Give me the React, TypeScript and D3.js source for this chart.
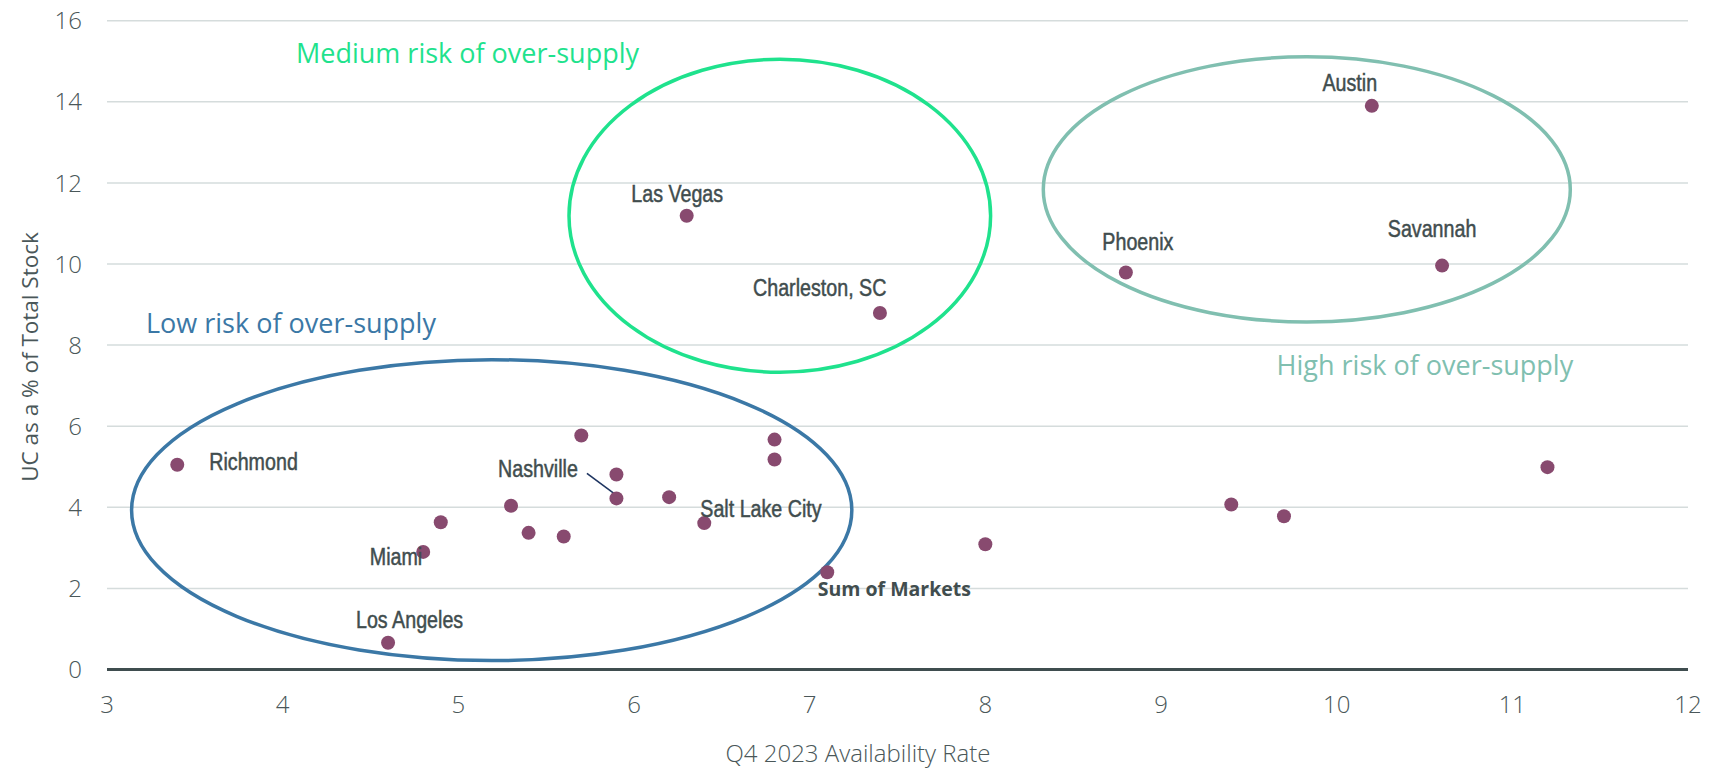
import React from "react";
import * as d3 from "d3";

// Q4 2023 availability rate (%) and units under construction as a share of total stock (%)
const marketNames = [
  "Richmond", "Miami", "", "Los Angeles", "", "", "", "", "", "Nashville", "", "Salt Lake City",
  "", "", "Sum of Markets", "", "", "", "", "Las Vegas", "Charleston, SC", "Phoenix", "Austin", "Savannah",
];
const availabilityRate = [
  3.4, 4.8, 4.9, 4.6, 5.3, 5.4, 5.6, 5.7, 5.9, 5.9, 6.2, 6.4,
  6.8, 6.8, 7.1, 8.0, 9.4, 9.7, 11.2, 6.3, 7.4, 8.8, 10.2, 10.6,
];
const ucShare = [
  5.05, 2.9, 3.63, 0.66, 4.04, 3.37, 3.28, 5.77, 4.81, 4.22, 4.25, 3.61,
  5.67, 5.18, 2.4, 3.09, 4.07, 3.78, 4.99, 11.19, 8.79, 9.79, 13.9, 9.96,
];

const xTicks = [3, 4, 5, 6, 7, 8, 9, 10, 11, 12];
const yTicks = [0, 2, 4, 6, 8, 10, 12, 14, 16];

// Risk zones, in data units
const zoneNames = ["Low risk of over-supply", "Medium risk of over-supply", "High risk of over-supply"];
const zoneCx = [5.19, 6.83, 9.83];
const zoneCy = [3.93, 11.19, 11.84];
const zoneRx = [2.05, 1.2, 1.5];
const zoneRy = [3.71, 3.86, 3.27];
const zoneLabelX = [3.222, 4.076, 9.658];
const zoneLabelY = [8.29, 14.95, 7.26];

const zoneColors = ["#3b78a6", "#1fe28d", "#80bfb0"];

// Label placement relative to each marker
const labelPlacement: Record<string, { dx: number; dy: number; anchor: string }> = {
  Richmond: { dx: 32, dy: 5, anchor: "start" },
  Nashville: { dx: -38.5, dy: -21, anchor: "end" },
  Miami: { dx: -1, dy: 13.5, anchor: "end" },
  "Los Angeles": { dx: 21.5, dy: -14.5, anchor: "middle" },
  "Salt Lake City": { dx: -4, dy: -6.5, anchor: "start" },
  "Las Vegas": { dx: -9.5, dy: -13.5, anchor: "middle" },
  "Charleston, SC": { dx: 6.5, dy: -17, anchor: "end" },
  Phoenix: { dx: 12, dy: -22.5, anchor: "middle" },
  Austin: { dx: -22, dy: -15, anchor: "middle" },
  Savannah: { dx: -10, dy: -28.5, anchor: "middle" },
  "Sum of Markets": { dx: -9.5, dy: 23.5, anchor: "start" },
};

const W = 1726;
const H = 770;
const left = 107;
const right = 1688;
const top = 20.7;
const bottom = 669.5;

const textColor = "#4a5759";
const labelColor = "#414d4e";
const tickFont = "'Open Sans', 'Liberation Sans', sans-serif";
const labelFont = "'Liberation Sans', Arial, sans-serif";
// horizontal squeeze giving the market labels a narrow face
const narrowScale = 0.82;

export default function App() {
  const x = d3.scaleLinear().domain([3, 12]).range([left, right]);
  const y = d3.scaleLinear().domain([0, 16]).range([bottom, top]);

  const points = availabilityRate.map((v, i) => ({
    name: marketNames[i],
    x: x(v),
    y: y(ucShare[i]),
  }));

  return (
    <svg
      width={W}
      height={H}
      style={{ position: "absolute", left: 0, top: 0, background: "#fff" }}
    >
      {/* horizontal gridlines */}
      {yTicks
        .filter((t) => t !== 0)
        .map((t) => (
          <line key={"g" + t} x1={left} x2={right} y1={y(t)} y2={y(t)} stroke="#d5dcdc" strokeWidth={1.5} />
        ))}

      {/* zero baseline */}
      <line x1={left} x2={right} y1={y(0)} y2={y(0)} stroke="#3f4d4f" strokeWidth={3.2} />

      {/* y tick labels */}
      {yTicks.map((t) => (
        <text
          key={"yt" + t}
          x={82}
          y={y(t)}
          dy="0.36em"
          textAnchor="end"
          fontFamily={tickFont}
          fontWeight={300}
          fontSize={24}
          fill={textColor}
        >
          {t}
        </text>
      ))}

      {/* x tick labels */}
      {xTicks.map((t) => (
        <text
          key={"xt" + t}
          x={x(t)}
          y={713}
          textAnchor="middle"
          fontFamily={tickFont}
          fontWeight={300}
          fontSize={24}
          fill={textColor}
        >
          {t}
        </text>
      ))}

      {/* axis titles */}
      <text
        transform={`translate(${38},${357}) rotate(-90)`}
        textAnchor="middle"
        fontFamily={tickFont}
        fontWeight={400}
        fontSize={22.5}
        fill={textColor}
      >
        UC as a % of Total Stock
      </text>
      <text
        x={858}
        y={762}
        textAnchor="middle"
        fontFamily={tickFont}
        fontWeight={300}
        fontSize={24}
        fill={textColor}
      >
        Q4 2023 Availability Rate
      </text>

      {/* risk zones */}
      {zoneNames.map((z, i) => (
        <ellipse
          key={"z" + i}
          cx={x(zoneCx[i])}
          cy={y(zoneCy[i])}
          rx={x(zoneCx[i] + zoneRx[i]) - x(zoneCx[i])}
          ry={y(zoneCy[i]) - y(zoneCy[i] + zoneRy[i])}
          fill="none"
          stroke={zoneColors[i]}
          strokeWidth={3.5}
        />
      ))}
      {zoneNames.map((z, i) => (
        <text
          key={"zl" + i}
          x={x(zoneLabelX[i])}
          y={y(zoneLabelY[i])}
          fontFamily={tickFont}
          fontWeight={500}
          fontSize={27}
          fill={zoneColors[i]}
        >
          {z}
        </text>
      ))}

      {/* Nashville leader line */}
      {points
        .filter((p) => p.name === "Nashville")
        .map((p) => (
          <line
            key="leader"
            x1={p.x - 29.5}
            y1={p.y - 25}
            x2={p.x - 0.5}
            y2={p.y - 3.5}
            stroke="#1f3561"
            strokeWidth={1.6}
          />
        ))}

      {/* market markers */}
      {points.map((p, i) => (
        <circle key={"p" + i} cx={p.x} cy={p.y} r={7} fill="#884a6f" />
      ))}

      {/* market labels */}
      {points
        .filter((p) => p.name)
        .map((p) => {
          const pl = labelPlacement[p.name];
          const isTotal = p.name === "Sum of Markets";
          if (isTotal) {
            return (
              <text
                key={"l" + p.name}
                x={p.x + pl.dx}
                y={p.y + pl.dy}
                textAnchor={pl.anchor}
                fontFamily={tickFont}
                fontWeight={700}
                fontSize={19.5}
                fill={labelColor}
              >
                {p.name}
              </text>
            );
          }
          return (
            <text
              key={"l" + p.name}
              transform={`translate(${p.x + pl.dx},${p.y + pl.dy}) scale(${narrowScale},1)`}
              textAnchor={pl.anchor}
              fontFamily={labelFont}
              fontWeight={400}
              fontSize={24}
              fill={labelColor}
              stroke={labelColor}
              strokeWidth={0.5}
            >
              {p.name}
            </text>
          );
        })}
    </svg>
  );
}
